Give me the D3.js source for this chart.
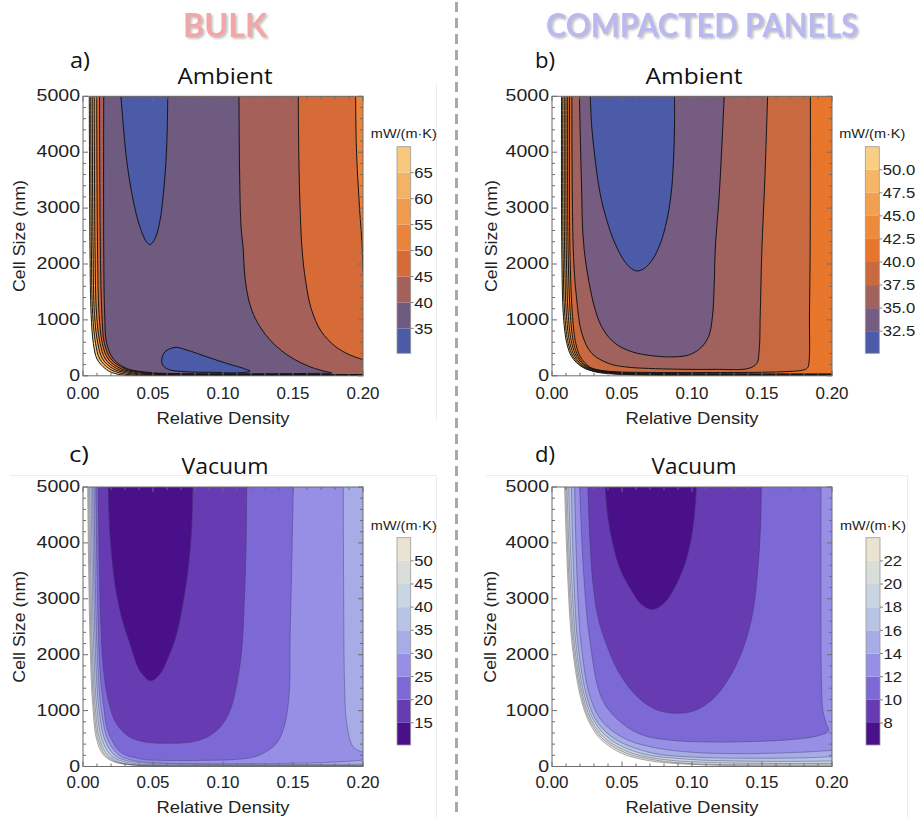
<!DOCTYPE html>
<html>
<head>
<meta charset="utf-8">
<script src="https://cdn.jsdelivr.net/npm/d3@7"></script>
<style>
  html, body { margin: 0; padding: 0; background: #fff; }
  svg { display: block; }
</style>
</head>
<body>
<script>
// ---------------------------------------------------------------
// Shared axes
// ---------------------------------------------------------------
const densityTicks = [0, 0.05, 0.10, 0.15, 0.20];
const cellTicks = [0, 1000, 2000, 3000, 4000, 5000];
const densityDomain = [0, 0.2];
const cellDomain = [0, 5000];

// Isolines are stored as  level -> components -> pieces -> [relative density, cell size (nm)].
// A component made of several pieces is closed along the plot frame between pieces.

// ---------------------------------------------------------------
// (a) Bulk, ambient
// ---------------------------------------------------------------
const bulkAmbientLevels = [35, 40, 45, 50, 55, 60, 65, 70];
const bulkAmbientColors = ["#4b5ba7", "#6f5a80", "#a6605a", "#d76b38", "#eb833a", "#f09a4e", "#f4b264", "#f8c97c"];
const bulkAmbientRange = [30.2, 70];
const bulkAmbientLegendTicks = [35, 40, 45, 50, 55, 60, 65];
const bulkAmbientIsolines = {
  70: [[[[0.0045,5000],[0.005,2253],[0.0058,1100],[0.0074,581],[0.0100,300],[0.0157,133],[0.0205,60],[0.03,8],[0.06,3.5],[0.2,3]]]],
  65: [[[[0.0055,5000],[0.006,2253],[0.0069,1100],[0.009,581],[0.012,300],[0.0184,133],[0.0249,60],[0.035,14],[0.06,6],[0.2,5]]]],
  60: [[[[0.0066,5000],[0.0072,2253],[0.0082,1100],[0.0106,581],[0.014,300],[0.0211,133],[0.0293,60],[0.04,20],[0.065,9],[0.2,8]]]],
  55: [[[[0.008,5000],[0.0086,2253],[0.0097,1100],[0.0122,581],[0.016,300],[0.0238,133],[0.0337,60],[0.045,26],[0.07,13],[0.2,12]]]],
  50: [[
    [[0.0098,5000],[0.0104,2253],[0.0115,1100],[0.0138,581],[0.018,300],[0.0265,133],[0.0381,60],[0.05,32],[0.075,18],[0.2,17]],
    [[0.2,1850],[0.1993,2369],[0.1976,2964],[0.1962,3560],[0.1952,4155],[0.1947,5000]]
  ]],
  45: [[
    [[0.0118,5000],[0.0124,2253],[0.0135,1100],[0.0153,581],[0.020,300],[0.0292,133],[0.0425,60],[0.055,38],[0.08,25],[0.14,23],[0.2,23]],
    [[0.2,290],[0.19,380],[0.18,530],[0.17,800],[0.163,1200],[0.159,1700],[0.1565,2253],[0.1548,3200],[0.154,4200],[0.1538,5000]]
  ]],
  40: [[[[0.0148,5000],[0.0148,2253],[0.0155,1100],[0.0169,581],[0.0218,300],[0.031,133],[0.047,60],[0.06,42],[0.09,36],[0.13,37],
         [0.16,42],[0.1776,52],[0.1741,72],[0.1621,161],[0.1479,341],[0.1359,581],[0.1264,878],[0.1205,1177],[0.1169,1536],
         [0.1152,1894],[0.1145,2252],[0.1129,2659],[0.1119,3555],[0.1114,5000]]]],
  35: [
    [[[0.0271,5000],[0.0312,3853],[0.0359,3136],[0.0407,2659],[0.0455,2390],[0.0479,2348],[0.0514,2450],[0.055,2778],
      [0.0574,3256],[0.0593,3853],[0.0602,4451],[0.0605,5000]]],
    [[[0.0562,281],[0.0586,430],[0.0657,509],[0.0741,461],[0.0884,340],[0.1026,222],[0.1145,133],[0.1193,84],
      [0.1121,54],[0.0931,61],[0.0741,72],[0.0609,115],[0.0569,192]]]
  ]
};

// ---------------------------------------------------------------
// (b) Compacted panels, ambient
// ---------------------------------------------------------------
const panelAmbientLevels = [32.5, 35, 37.5, 40, 42.5, 45, 47.5, 50, 52.5];
const panelAmbientColors = ["#4b5ba7", "#755c80", "#a1615d", "#c8693f", "#e8752c", "#ee8a3a", "#f19f50", "#f5b767", "#f9cf85"];
const panelAmbientRange = [30.1, 52.5];
const panelAmbientLegendTicks = [32.5, 35, 37.5, 40, 42.5, 45, 47.5, 50];
const panelAmbientIsolines = {
  52.5: [[[[0.0068,5000],[0.0070,2253],[0.0082,1057],[0.0106,581],[0.0141,340],[0.0213,161],[0.0309,72],[0.0451,30],[0.07,8],[0.12,4],[0.2,3.5]]]],
  50:   [[[[0.0077,5000],[0.0079,2253],[0.0092,1057],[0.0116,581],[0.0152,340],[0.0222,161],[0.0322,72],[0.048,34],[0.075,14],[0.12,10],[0.2,9]]]],
  47.5: [[[[0.0088,5000],[0.0090,2253],[0.0104,1057],[0.0128,581],[0.0164,340],[0.0233,161],[0.0337,75],[0.051,40],[0.08,22],[0.12,17],[0.2,16]]]],
  45:   [[[[0.0100,5000],[0.0102,2253],[0.0117,1057],[0.0141,581],[0.0177,340],[0.0245,161],[0.0352,80],[0.053,46],[0.085,30],[0.13,25],[0.2,24]]]],
  42.5: [[[[0.0112,5000],[0.0115,2253],[0.0132,1057],[0.0155,581],[0.0189,340],[0.0256,161],[0.0365,88],[0.055,54],[0.09,40],[0.14,35],[0.2,34]]]],
  40:   [[[[0.0125,5000],[0.0128,2253],[0.0147,1057],[0.0170,581],[0.0202,340],[0.0268,161],[0.033,105],[0.0451,72],[0.07,60],[0.11,58],
           [0.15,63],[0.17,78],[0.179,100],[0.1825,140],[0.1837,281],[0.1839,1057],[0.1844,2253],[0.1846,5000]]]],
  37.5: [[[[0.0142,5000],[0.0152,2253],[0.0175,1400],[0.0213,760],[0.0284,401],[0.0404,222],[0.052,160],[0.0689,132],[0.09,118],
           [0.1166,115],[0.1404,132],[0.1463,222],[0.148,461],[0.1487,1057],[0.1499,2253],[0.152,3500],[0.154,5000]]]],
  35:   [[[[0.0196,5000],[0.021,3500],[0.023,2253],[0.0309,1177],[0.0368,819],[0.0451,581],[0.057,430],[0.0737,353],[0.088,340],
           [0.0975,371],[0.1059,491],[0.1118,699],[0.1146,1057],[0.1159,1656],[0.1166,2253],[0.1195,3256],[0.1215,4200],[0.123,5000]]]],
  32.5: [[[[0.0273,5000],[0.0284,4451],[0.0309,3853],[0.0344,3256],[0.0392,2778],[0.0451,2360],[0.0523,2032],[0.0582,1894],
           [0.0613,1876],[0.0654,1912],[0.0713,2061],[0.0773,2360],[0.082,2778],[0.0851,3256],[0.0868,3853],[0.0875,4451],[0.0875,5000]]]]
};

// ---------------------------------------------------------------
// (c) Bulk, vacuum
// ---------------------------------------------------------------
const bulkVacuumLevels = [15, 20, 25, 30, 35, 40, 45, 50, 55];
const vacuumColors = ["#4a108a", "#673bb2", "#7d69d5", "#978fe6", "#a8ace6", "#b8c4e6", "#c9d5e3", "#d9ded8", "#ebe3d2"];
const bulkVacuumRange = [10.2, 55];
const bulkVacuumLegendTicks = [15, 20, 25, 30, 35, 40, 45, 50];
const bulkVacuumIsolines = {
  55: [[[[0.0033,5000],[0.0050,2262],[0.0070,1071],[0.0098,477],[0.0145,209],[0.0216,89],[0.0336,30],[0.05,10],[0.08,3],[0.2,2]]]],
  50: [[[[0.0040,5000],[0.0057,2262],[0.0078,1071],[0.0108,477],[0.0158,209],[0.022,100],[0.029,50],[0.04,20],[0.06,8],[0.1,6],[0.2,6]]]],
  45: [[[[0.0048,5000],[0.0065,2262],[0.0087,1071],[0.0120,477],[0.0173,209],[0.023,110],[0.028,60],[0.038,30],[0.06,15],[0.1,12],[0.2,12]]]],
  40: [[[[0.0058,5000],[0.0075,2262],[0.0098,1071],[0.0136,477],[0.0195,209],[0.025,120],[0.032,70],[0.042,40],[0.06,25],[0.1,20],[0.2,20]]]],
  35: [[[[0.0068,5000],[0.0086,2262],[0.0112,1071],[0.0156,477],[0.0222,209],[0.029,120],[0.037,80],[0.05,50],[0.07,40],[0.1,35],[0.15,35],[0.2,40]]]],
  30: [[
    [[0.0079,5000],[0.0098,2262],[0.0128,1071],[0.0178,477],[0.0255,209],[0.034,120],[0.045,80],[0.06,58],[0.09,50],[0.13,52],[0.17,70],[0.19,95],[0.2,115]],
    [[0.2,257],[0.1931,346],[0.1884,762],[0.1868,1500],[0.1862,3000],[0.1859,5000]]
  ]],
  25: [[[[0.0092,5000],[0.0100,3500],[0.0112,2262],[0.0128,1500],[0.0148,1071],[0.017,700],[0.0205,477],[0.025,300],[0.03,209],[0.038,150],
         [0.0455,120],[0.0693,107],[0.09,112],[0.105,120],[0.118,150],[0.1264,209],[0.1383,418],[0.1443,775],[0.1474,1370],[0.1479,2262],
         [0.149,3500],[0.1502,5000]]]],
  20: [[[[0.0108,5000],[0.0115,3857],[0.0126,2668],[0.0145,1775],[0.0181,1179],[0.024,762],[0.0336,525],[0.0455,436],[0.0598,418],
         [0.0764,436],[0.0884,525],[0.0979,703],[0.105,1000],[0.1098,1477],[0.1133,2071],[0.1152,2964],[0.1164,3857],[0.1169,5000]]]],
  15: [[[[0.0181,5000],[0.0193,4155],[0.0229,3262],[0.0276,2668],[0.0336,2191],[0.0407,1714],[0.0483,1536],[0.055,1655],[0.0609,1953],
         [0.0669,2370],[0.0717,2964],[0.0752,3560],[0.0776,4275],[0.0783,5000]]]]
};

// ---------------------------------------------------------------
// (d) Compacted panels, vacuum
// ---------------------------------------------------------------
const panelVacuumLevels = [8, 10, 12, 14, 16, 18, 20, 22, 24];
const panelVacuumRange = [6.1, 24];
const panelVacuumLegendTicks = [8, 10, 12, 14, 16, 18, 20, 22];
const panelVacuumIsolines = {
  24: [[[[0.0090,5000],[0.0140,2262],[0.0209,1191],[0.0269,775],[0.0352,477],[0.0495,239],[0.0686,107],[0.0924,48],[0.13,16],[0.17,10],[0.2,9]]]],
  22: [[[[0.0098,5000],[0.0148,2262],[0.0218,1191],[0.0280,775],[0.037,477],[0.053,239],[0.075,110],[0.10,50],[0.14,30],[0.2,28]]]],
  20: [[[[0.0107,5000],[0.0157,2262],[0.0228,1191],[0.0293,775],[0.039,477],[0.057,239],[0.083,115],[0.11,75],[0.15,55],[0.2,55]]]],
  18: [[[[0.0119,5000],[0.0168,2262],[0.024,1191],[0.031,775],[0.042,477],[0.063,239],[0.097,130],[0.13,100],[0.17,92],[0.2,100]]]],
  16: [[[[0.0138,5000],[0.0182,2262],[0.0256,1191],[0.033,775],[0.046,477],[0.072,239],[0.10,170],[0.14,148],[0.18,155],[0.2,175]]]],
  14: [[[[0.0162,5000],[0.0205,2262],[0.028,1191],[0.037,775],[0.054,477],[0.075,330],[0.10,255],[0.13,230],[0.16,240],[0.185,265],[0.2,290]]]],
  12: [[[[0.0198,5000],[0.0225,3500],[0.027,2262],[0.036,1191],[0.050,775],[0.065,560],[0.085,470],[0.11,440],[0.14,445],[0.17,480],
         [0.19,550],[0.1975,640],[0.196,760],[0.1935,1000],[0.1925,1500],[0.1921,2500],[0.1921,5000]]]],
  10: [[[[0.0257,5000],[0.0269,4155],[0.0293,3262],[0.0329,2667],[0.0388,2191],[0.0471,1714],[0.059,1298],[0.0733,1030],[0.0876,954],
         [0.1019,1000],[0.1162,1239],[0.1281,1655],[0.1376,2191],[0.1436,2786],[0.1471,3560],[0.149,4334],[0.1495,5000]]]],
  8:  [[[[0.0381,5000],[0.04,4453],[0.0436,3977],[0.0483,3560],[0.0555,3203],[0.0638,2905],[0.0714,2810],[0.0793,2905],[0.0876,3203],
         [0.0948,3620],[0.0995,4096],[0.1019,4572],[0.1031,5000]]]]
};

// ---------------------------------------------------------------
// Drawing
// ---------------------------------------------------------------
const W = 916, H = 818;
const SANS = "'Liberation Sans', Arial, sans-serif";
const TITLE = "'Open Sans', 'Noto Sans', sans-serif";
const PW = 280, PH = 279.5;

const svg = d3.select("body").append("svg").attr("width", W).attr("height", H);
const defs = svg.append("defs");

function txt(parent, s, x, y, o = {}) {
  let tr = `translate(${x},${y})`;
  if (o.rotate) tr += ` rotate(${o.rotate})`;
  if (o.sx) tr += ` scale(${o.sx},1)`;
  const t = parent.append("text")
    .attr("transform", tr)
    .attr("text-anchor", o.anchor || "middle")
    .style("font-family", o.family || SANS)
    .style("font-size", (o.size || 16) + "px")
    .attr("fill", o.fill || "#222")
    .text(s);
  if (o.weight) t.style("font-weight", o.weight);
  if (o.width) t.attr("textLength", o.width).attr("lengthAdjust", "spacingAndGlyphs");
  if (o.baseline) t.attr("dominant-baseline", o.baseline);
  return t;
}

// position of a frame point along the plot perimeter (top → left → bottom → right)
function edgeT(p) {
  const [d, c] = p, e = 1e-9;
  if (c >= cellDomain[1] - e) return (densityDomain[1] - d) / densityDomain[1];
  if (d <= e) return 1 + (cellDomain[1] - c) / cellDomain[1];
  if (c <= e) return 2 + d / densityDomain[1];
  if (d >= densityDomain[1] - e) return 3 + c / cellDomain[1];
  return null;
}
const frameCorners = [[0.2, 5000], [0, 5000], [0, 0], [0.2, 0]];
function cornersBetween(a, b) {
  const t0 = edgeT(a);
  let t1 = edgeT(b);
  if (t0 === null || t1 === null) return [];
  if (t1 < t0) t1 += 4;
  const out = [];
  for (let k = Math.ceil(t0); k < t1; k++) if (k > t0) out.push(frameCorners[k % 4]);
  return out;
}

function drawPanel(cfg) {
  const g = svg.append("g");
  const x = d3.scaleLinear().domain(densityDomain).range([cfg.left, cfg.left + PW]);
  const y = d3.scaleLinear().domain(cellDomain).range([cfg.top + PH, cfg.top]);
  const openLine = d3.line().x(p => x(p[0])).y(p => y(p[1])).curve(d3.curveCatmullRom.alpha(0.5));
  const loopLine = d3.line().x(p => x(p[0])).y(p => y(p[1])).curve(d3.curveCatmullRomClosed.alpha(0.5));
  const isLoop = comp => comp.length === 1 && edgeT(comp[0][0]) === null;

  function regionPath(comp) {
    if (isLoop(comp)) return loopLine(comp[0]);
    let dStr = "", prevEnd = null;
    comp.forEach((piece, k) => {
      let s = openLine(piece);
      if (k > 0) {
        dStr += cornersBetween(prevEnd, piece[0]).map(p => `L${x(p[0])},${y(p[1])}`).join("");
        s = "L" + s.slice(1);
      }
      dStr += s;
      prevEnd = piece[piece.length - 1];
    });
    dStr += cornersBetween(prevEnd, comp[0][0]).map(p => `L${x(p[0])},${y(p[1])}`).join("") + "Z";
    return dStr;
  }

  defs.append("clipPath").attr("id", "clip-" + cfg.id)
    .append("rect").attr("x", cfg.left).attr("y", cfg.top).attr("width", PW).attr("height", PH);
  const plot = g.append("g").attr("clip-path", `url(#clip-${cfg.id})`);
  plot.append("rect").attr("x", cfg.left).attr("y", cfg.top).attr("width", PW).attr("height", PH).attr("fill", "#fff");

  // filled bands: region below each level, highest level first
  for (let i = cfg.levels.length - 1; i >= 0; i--) {
    (cfg.lines[cfg.levels[i]] || []).forEach(comp => {
      plot.append("path").attr("d", regionPath(comp)).attr("fill", cfg.colors[i]).attr("stroke", cfg.colors[i]).attr("stroke-width", 0.3);
    });
  }
  // contour lines
  cfg.levels.forEach(lv => {
    (cfg.lines[lv] || []).forEach(comp => {
      if (isLoop(comp)) {
        plot.append("path").attr("d", loopLine(comp[0])).attr("fill", "none")
          .attr("stroke", cfg.lineColor).attr("stroke-width", cfg.lineWidth);
      } else {
        comp.forEach(piece => plot.append("path").attr("d", openLine(piece)).attr("fill", "none")
          .attr("stroke", cfg.lineColor).attr("stroke-width", cfg.lineWidth).attr("stroke-linejoin", "round"));
      }
    });
  });

  // frame with inward ticks on all sides
  const frame = g.append("g").attr("stroke", "#6d6d6d").attr("stroke-width", 1);
  frame.append("rect").attr("x", cfg.left).attr("y", cfg.top).attr("width", PW).attr("height", PH).attr("fill", "none");
  const xMinor = d3.range(0, 0.2001, 0.01), yMinor = d3.range(0, 5001, 200);
  xMinor.forEach(v => {
    const major = densityTicks.some(t => Math.abs(t - v) < 1e-6), len = major ? 5 : 3;
    frame.append("line").attr("x1", x(v)).attr("x2", x(v)).attr("y1", cfg.top + PH).attr("y2", cfg.top + PH - len);
    frame.append("line").attr("x1", x(v)).attr("x2", x(v)).attr("y1", cfg.top).attr("y2", cfg.top + len);
  });
  yMinor.forEach(v => {
    const major = v % 1000 === 0, len = major ? 5 : 3;
    frame.append("line").attr("x1", cfg.left).attr("x2", cfg.left + len).attr("y1", y(v)).attr("y2", y(v));
    frame.append("line").attr("x1", cfg.left + PW).attr("x2", cfg.left + PW - len).attr("y1", y(v)).attr("y2", y(v));
  });

  // tick labels
  densityTicks.forEach(v => txt(g, d3.format(".2f")(v), x(v), cfg.xTickY, { size: 16, sx: 1.06 }));
  cellTicks.forEach(v => txt(g, String(v), cfg.left - 3, y(v) + 5, { size: 16, anchor: "end", sx: 1.22 }));

  // axis titles
  txt(g, "Relative Density", cfg.left + PW / 2, cfg.xTitleY, { size: 16.5, width: 133 });
  txt(g, "Cell Size (nm)", cfg.yTitleX, cfg.top + PH / 2, { size: 16.5, rotate: -90, width: 112, baseline: "central" });

  // panel letter and title
  txt(g, cfg.letter, cfg.letterX, cfg.letterY, { family: TITLE, size: 21, fill: "#111", width: 20 });
  txt(g, cfg.title, cfg.left + PW / 2 + 2, cfg.titleY, { family: TITLE, size: 21, fill: "#111", width: cfg.titleW });

  // colour legend
  const cb = cfg.legend;
  const ly = d3.scaleLinear().domain(cfg.range).range([cb.bottom, cb.top]);
  const bounds = [cfg.range[0]].concat(cfg.levels.map(v => Math.min(v, cfg.range[1])));
  const lg = g.append("g");
  cfg.levels.forEach((lv, i) => {
    const lo = bounds[i], hi = bounds[i + 1];
    if (hi <= lo) return;
    lg.append("rect").attr("x", cb.x).attr("width", cb.w).attr("y", ly(hi)).attr("height", ly(lo) - ly(hi))
      .attr("fill", cfg.colors[i]);
  });
  lg.append("rect").attr("x", cb.x).attr("width", cb.w).attr("y", cb.top).attr("height", cb.bottom - cb.top)
    .attr("fill", "none").attr("stroke", "#9a9a9a").attr("stroke-width", 0.8);
  cfg.legendTicks.forEach(v => {
    lg.append("line").attr("x1", cb.x + cb.w).attr("x2", cb.x + cb.w + 3).attr("y1", ly(v)).attr("y2", ly(v))
      .attr("stroke", "#666").attr("stroke-width", 0.8);
    txt(lg, cfg.legendFormat(v), cb.x + cb.w + 3.5, ly(v) + 5.2, { size: 14.5, anchor: "start", sx: 1.15 });
  });
  txt(lg, "mW/(m\u00b7K)", cb.x + cb.w / 2, cb.titleY, { size: 12, width: 66 });
}

// faint outlines around the individual plot images
const faint = svg.append("g").attr("stroke", "#ececec").attr("stroke-width", 1).attr("fill", "none");
faint.append("line").attr("x1", 436.5).attr("x2", 436.5).attr("y1", 83).attr("y2", 420);
faint.append("line").attr("x1", 10).attr("x2", 436.5).attr("y1", 475.5).attr("y2", 475.5);
faint.append("line").attr("x1", 436.5).attr("x2", 436.5).attr("y1", 475.5).attr("y2", 818);
faint.append("line").attr("x1", 486).attr("x2", 907.5).attr("y1", 475.5).attr("y2", 475.5);
faint.append("line").attr("x1", 907.5).attr("x2", 907.5).attr("y1", 475.5).attr("y2", 818);

const oneDecimal = d3.format(".1f");
const integer = d3.format("d");

drawPanel({
  id: "a", left: 83, top: 96.3, levels: bulkAmbientLevels, colors: bulkAmbientColors, lines: bulkAmbientIsolines,
  range: bulkAmbientRange, legendTicks: bulkAmbientLegendTicks, legendFormat: integer,
  lineColor: "#151515", lineWidth: 1.0,
  legend: { x: 397, w: 13.7, top: 146.7, bottom: 353.3, titleY: 137.5 },
  xTickY: 399, xTitleY: 423.5, yTitleX: 18.5,
  letter: "a)", letterX: 80, letterY: 68, title: "Ambient", titleY: 84, titleW: 95
});
drawPanel({
  id: "b", left: 552, top: 96.3, levels: panelAmbientLevels, colors: panelAmbientColors, lines: panelAmbientIsolines,
  range: panelAmbientRange, legendTicks: panelAmbientLegendTicks, legendFormat: oneDecimal,
  lineColor: "#151515", lineWidth: 1.0,
  legend: { x: 865.3, w: 14, top: 146.7, bottom: 353.3, titleY: 137.5 },
  xTickY: 399, xTitleY: 423.5, yTitleX: 491,
  letter: "b)", letterX: 545, letterY: 68, title: "Ambient", titleY: 84, titleW: 97
});
drawPanel({
  id: "c", left: 83, top: 487, levels: bulkVacuumLevels, colors: vacuumColors, lines: bulkVacuumIsolines,
  range: bulkVacuumRange, legendTicks: bulkVacuumLegendTicks, legendFormat: integer,
  lineColor: "rgba(60,60,95,0.45)", lineWidth: 0.9,
  legend: { x: 397, w: 13.7, top: 537.7, bottom: 745, titleY: 530 },
  xTickY: 788, xTitleY: 812.5, yTitleX: 18.5,
  letter: "c)", letterX: 79, letterY: 462, title: "Vacuum", titleY: 474, titleW: 87
});
drawPanel({
  id: "d", left: 552, top: 487, levels: panelVacuumLevels, colors: vacuumColors, lines: panelVacuumIsolines,
  range: panelVacuumRange, legendTicks: panelVacuumLegendTicks, legendFormat: integer,
  lineColor: "rgba(60,60,95,0.45)", lineWidth: 0.9,
  legend: { x: 866, w: 14, top: 537.7, bottom: 745, titleY: 530 },
  xTickY: 788, xTitleY: 812.5, yTitleX: 490,
  letter: "d)", letterX: 545, letterY: 462, title: "Vacuum", titleY: 474, titleW: 85
});

// column headers with a soft drop shadow
const shadow = defs.append("filter").attr("id", "soft").attr("x", "-10%").attr("y", "-30%").attr("width", "125%").attr("height", "170%");
shadow.append("feDropShadow").attr("dx", 1.8).attr("dy", 1.8).attr("stdDeviation", 1.1)
  .attr("flood-color", "#8c8c8c").attr("flood-opacity", 0.55);
function header(s, cx, w, color) {
  txt(svg, s, cx, 36.5, { family: "Lato, 'Open Sans', sans-serif", size: 32, weight: 700, fill: color, width: w })
    .attr("filter", "url(#soft)");
}
header("BULK", 225, 84, "#f2a6a6");
header("COMPACTED PANELS", 702, 312, "#b9b9ef");

// column divider
svg.append("line").attr("x1", 456.5).attr("x2", 456.5).attr("y1", 2).attr("y2", H)
  .attr("stroke", "#a8a8a8").attr("stroke-width", 3).attr("stroke-dasharray", "10,6");
</script>
</body>
</html>
